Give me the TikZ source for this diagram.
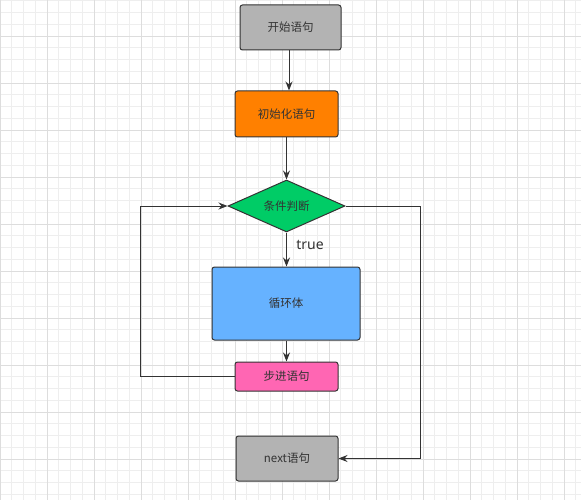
\documentclass[tikz,border=0pt]{standalone}
\usepackage{fontspec}
\setmainfont{Noto Sans CJK SC}
\setsansfont{Noto Sans}
\usetikzlibrary{shapes.geometric,arrows.meta}
\definecolor{lnc}{HTML}{333333}
\definecolor{grayf}{HTML}{B3B3B3}
\definecolor{orangef}{HTML}{FF8000}
\definecolor{greenf}{HTML}{00CC66}
\definecolor{bluef}{HTML}{66B2FF}
\definecolor{pinkf}{HTML}{FF66B3}
\definecolor{gminor}{HTML}{EEEEEE}
\definecolor{gmajor}{HTML}{DDDDDD}
\begin{document}
\begin{tikzpicture}[x=1pt,y=-1pt,
  box/.style={draw=lnc,line width=1pt,rounded corners=2.5pt,inner sep=0pt,font=\fontsize{11.5}{13}\selectfont,text=lnc},
  dia/.style={draw=lnc,line width=1pt,diamond,aspect=2.25,inner sep=0pt,font=\fontsize{11.5}{13}\selectfont,text=lnc},
  conn/.style={draw=lnc,line width=1pt,-{Stealth[length=9pt,width=7pt]}},
  plain/.style={draw=lnc,line width=1pt}]
\useasboundingbox (0,0) rectangle (581,500);
\fill[white] (0,0) rectangle (581,500);
\foreach \i in {0,...,50} {
  \draw[gminor,line width=0.6pt] (\i*11.75,0) -- (\i*11.75,500);
  \draw[gminor,line width=0.6pt] (0,0.75+\i*11.75) -- (581,0.75+\i*11.75);
}
\foreach \x in {0,47,94,...,580} \draw[gmajor,line width=0.7pt] (\x,0) -- (\x,500);
\foreach \y in {36,83,...,500} \draw[gmajor,line width=0.7pt] (0,\y) -- (581,\y);
\node[box,fill=grayf,minimum width=101pt,minimum height=45pt] (start) at (290.5,27.5) {开始语句};
\node[box,fill=orangef,minimum width=103pt,minimum height=46pt] (init) at (286.5,114) {初始化语句};
\node[dia,fill=greenf,minimum width=117pt,minimum height=52pt] (cond) at (286.5,206) {条件判断};
\node[box,fill=bluef,minimum width=148pt,minimum height=73pt] (body) at (286,303.5) {循环体};
\node[box,fill=pinkf,minimum width=103pt,minimum height=29pt] (step) at (286.5,376.5) {步进语句};
\node[box,fill=grayf,minimum width=102pt,minimum height=45pt] (next) at (287,458.5) {next语句};
\node[font=\sffamily\fontsize{14}{16}\selectfont,text=lnc] (tl) at (310,245) {true};
\coordinate (lb) at (140,376.5);
\coordinate (lt) at (140,206);
\coordinate (rt) at (420,206);
\coordinate (rb) at (420,458.5);
\draw[conn] (start.south -| 289,0) -- (init.north -| 289,0);
\draw[conn] (init.south -| 286.5,0) -- (cond.north);
\draw[conn] (cond.south) -- (body.north -| cond.south);
\draw[conn] (body.south -| 286.5,0) -- (step.north -| 286.5,0);
\draw[conn] (step.west) -- (lb) -- (lt) -- (cond.west);
\draw[conn] (cond.east) -- (rt) -- (rb) -- (next.east);
\end{tikzpicture}
\end{document}
